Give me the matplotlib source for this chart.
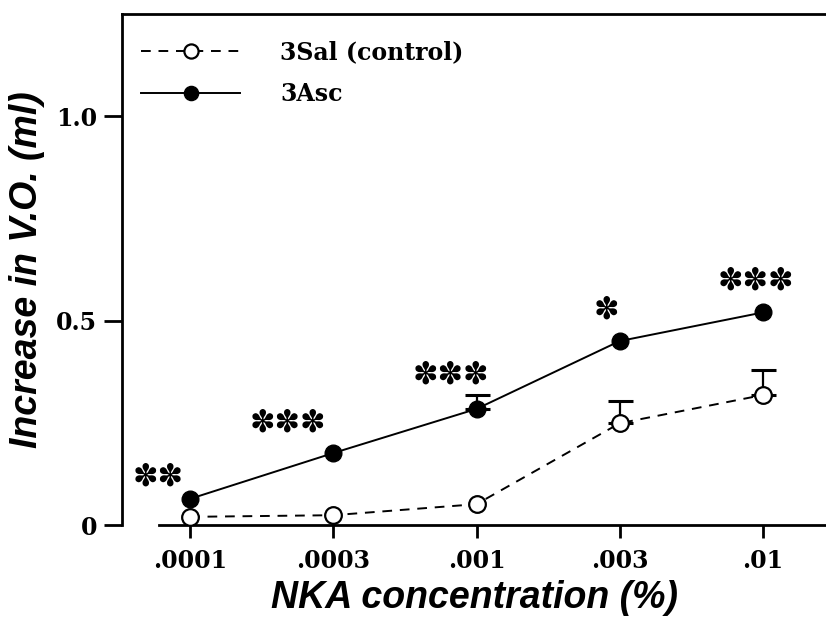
import numpy as np
from matplotlib import pyplot as plt

conc_labels = ['.0001', '.0003', '.001', '.003', '.01']
sal = [0.02, 0.024, 0.051, 0.249, 0.318]      # 3Sal (control)
sal_err = [0.0, 0.0, 0.0, 0.055, 0.06]
asc = [0.064, 0.176, 0.284, 0.45, 0.52]       # 3Asc
asc_err = [0.0, 0.0, 0.034, 0.0, 0.0]
stars = ['**', '***', '***', '*', '***']
# where the significance marks sit (category index, y value)
star_pos = [(-0.22, 0.117), (0.68, 0.249), (1.82, 0.367), (2.91, 0.526), (3.95, 0.597)]

x = np.arange(len(conc_labels))

fig = plt.figure(figsize=(8.26, 6.2), dpi=100)
ax = fig.add_axes([0.1477, 0.1532, 0.8523, 0.8242])

# only the upper half of the error bars, and only where there is one
for vals, errs in [(sal, sal_err), (asc, asc_err)]:
    idx = [i for i, e in enumerate(errs) if e > 0]
    ax.errorbar(x[idx], np.array(vals)[idx],
                yerr=[np.zeros(len(idx)), np.array(errs)[idx]], fmt='none',
                ecolor='black', elinewidth=1.6, capsize=9, capthick=2.2, zorder=2)

ax.plot(x, sal, color='black', lw=1.4, dashes=(5, 4), marker='o', ms=12,
        mfc='white', mec='black', mew=1.6, label='3Sal (control)', zorder=3)
ax.plot(x, asc, color='black', lw=1.4, marker='o', ms=12,
        mfc='black', mec='black', label='3Asc', zorder=3)

for s, (sx, sy) in zip(stars, star_pos):
    ax.text(sx, sy, '\u273d' * len(s), ha='center', va='center',
            fontsize=22, family='DejaVu Sans', color='black')

ax.set_xlim(-0.475, 4.44)
ax.set_ylim(0, 1.25)
ax.set_xticks(x)
ax.set_xticklabels(conc_labels)
ax.set_yticks([0, 0.5, 1.0])
ax.set_yticklabels(['0', '0.5', '1.0'])

for lab in ax.get_xticklabels() + ax.get_yticklabels():
    lab.set_family('DejaVu Serif')
    lab.set_fontweight('bold')
    lab.set_fontsize(17)

ax.tick_params(axis='x', direction='out', length=9, width=2, pad=8)
ax.tick_params(axis='y', direction='out', length=13, width=2, pad=5)

ax.spines['right'].set_visible(False)
for sp in ['left', 'bottom', 'top']:
    ax.spines[sp].set_linewidth(2)
ax.spines['bottom'].set_bounds(-0.22, 4.44)

ax.set_xlabel('NKA concentration (%)', family='Liberation Sans', fontsize=27,
              fontweight='bold', style='italic', labelpad=5)
ax.set_ylabel('Increase in V.O. (ml)', family='Liberation Sans', fontsize=27,
              fontweight='bold', style='italic', labelpad=8)

leg = ax.legend(loc='upper left', bbox_to_anchor=(-0.003, 0.99), frameon=False,
                handlelength=4.2, handletextpad=1.7, labelspacing=0.75,
                markerscale=0.85,
                prop={'family': 'DejaVu Serif', 'weight': 'bold', 'size': 17})

plt.savefig('out.png', dpi=100)
